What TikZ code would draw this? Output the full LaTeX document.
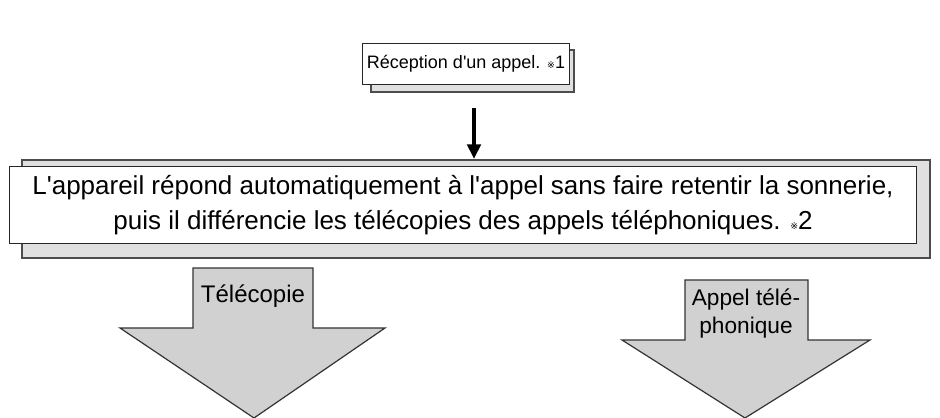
\documentclass[tikz,border=0pt]{standalone}
\usepackage{fontspec}
\setmainfont{Liberation Sans}
\newfontfamily\djv{DejaVu Sans}
\usetikzlibrary{arrows.meta}
\newcommand{\rmark}{{\djv\scriptsize ※}}
\newcommand{\aq}{\textquotesingle}
\begin{document}
\begin{tikzpicture}[x=0.75pt,y=-0.75pt,
  sheet/.style={draw=black!85,line width=0.9pt,fill=white},
  backsheet/.style={draw=black!70,line width=0.9pt,fill=black!12},
  bigarrow/.style={draw=black!80,line width=0.9pt,fill=black!18},
  txt/.style={align=center}]
\useasboundingbox (0,0) rectangle (940,418);
% top box
\draw[backsheet] (371,50) rectangle (574,92);
\node[sheet,minimum width=152pt,minimum height=31pt,txt,font=\fontsize{13.5}{16}\selectfont] (recv) at (466,64) {Réception d\aq un appel. \rmark1};
% middle box
\draw[backsheet] (22,160) rectangle (930,258);
\node[sheet,minimum width=680pt,minimum height=58pt,txt,font=\fontsize{19.5}{26}\selectfont] (rep) at (463,205)
 {L\aq appareil répond automatiquement à l\aq appel sans faire retentir la sonnerie,\\
  puis il différencie les télécopies des appels téléphoniques. \rmark2};
\coordinate (a0) at (474,108);
\coordinate (a1) at (474,159);
\draw[-{Triangle[length=11pt,width=10pt]},line width=3pt] (a0) -- (a1);
% big arrows
\draw[bigarrow] (193,268) -- (313,268) -- (313,328) -- (385,328) -- (254,418) -- (120,328) -- (193,328) -- cycle;
\node[txt,font=\fontsize{18}{22}\selectfont] (fax) at (253,296) {Télécopie};
\draw[bigarrow] (685,280) -- (808,280) -- (808,340) -- (870,340) -- (745,418) -- (622,340) -- (685,340) -- cycle;
\node[txt,font=\fontsize{17}{21}\selectfont] (tel) at (746,314) {Appel télé-\\phonique};
\end{tikzpicture}
\end{document}
